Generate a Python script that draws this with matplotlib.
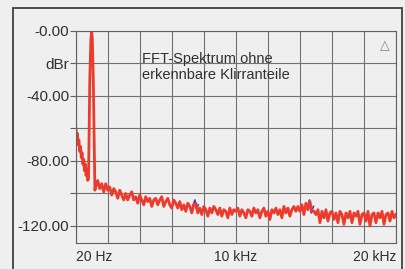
import matplotlib.pyplot as plt
import matplotlib.patches as patches
import numpy as np

plt.rcParams['font.family'] = ['Liberation Sans', 'DejaVu Sans']

# low-frequency part including the 1 kHz test tone
low_freq = [20, 60, 100, 150, 200, 250, 300, 350, 400, 450, 500, 550, 600, 650,
            700, 750, 800, 830, 880, 950, 1000, 1040, 1100, 1160, 1200]
low_db = [-60, -66, -63, -70, -67, -74, -71, -78, -75, -82, -79, -86, -82, -89,
          -85, -92, -91, -70, -30, -5, -0.5, -5, -30, -70, -98]

# noise floor, one value every 125 Hz from 1250 Hz to 20 kHz
noise_freq = np.arange(1250, 20001, 125)
noise_db = [
    -96, -92, -97, -94, -99, -94, -98, -96, -101, -97,
    -99, -103, -98, -101, -104, -100, -104, -101, -99, -104,
    -102, -106, -101, -104, -107, -102, -105, -103, -108, -104,
    -103, -107, -104, -102, -108, -105, -103, -107, -109, -104,
    -106, -109, -105, -110, -107, -111, -106, -108, -112, -107,
    -106, -112, -109, -113, -108, -110, -114, -109, -112, -108,
    -110, -113, -109, -114, -110, -111, -115, -109, -113, -110,
    -111, -109, -114, -110, -112, -115, -110, -111, -114, -109,
    -112, -110, -115, -111, -109, -114, -111, -116, -110, -112,
    -109, -113, -110, -115, -108, -112, -109, -114, -110, -108,
    -111, -108, -111, -107, -113, -106, -110, -105, -111, -111,
    -113, -110, -118, -111, -115, -110, -117, -112, -111, -116,
    -112, -118, -111, -113, -119, -112, -115, -111, -118, -112,
    -114, -111, -119, -113, -112, -117, -111, -120, -113, -112,
    -118, -112, -115, -111, -119, -113, -112, -117, -111, -115,
    -113,
]

# second channel, visible only where it pokes out of the red trace
blue1_freq = [7300, 7450, 7550, 7650]
blue1_db = [-108, -104, -110, -107]
blue2_freq = [14450, 14600, 14700, 14850]
blue2_db = [-109, -104, -112, -108]

freq = np.concatenate([low_freq, noise_freq])
db = np.concatenate([low_db, noise_db])

y_ticks = [0, -20, -40, -60, -80, -100, -120]
y_labels = ['-0.00', 'dBr', '-40.00', '', '-80.00', '', '-120.00']
x_ticks = np.linspace(20, 20000, 11)
x_labels = ['20 Hz', '', '', '', '', '10 kHz', '', '', '', '', '20 kHz']

bg = '#efefef'
fig = plt.figure(figsize=(4.06, 2.69), dpi=100, facecolor=bg)
ax = fig.add_axes([76/406, 1 - 243/269, 320/406, 212/269], facecolor=bg)

# outer frame
fig.patches.append(patches.Rectangle((13/406, -0.05), 389/406, 1.05 - 8/269,
                                     transform=fig.transFigure, fill=False,
                                     edgecolor='#404040', linewidth=1.3))

ax.plot(blue1_freq, blue1_db, color='#3a3ad0', linewidth=1.2)
ax.plot(blue2_freq, blue2_db, color='#3a3ad0', linewidth=1.2)
ax.plot(freq, db, color='#ec3b2c', linewidth=2.0)

ax.set_xlim(20, 20000)
ax.set_ylim(-130.5, 0)
ax.set_yticks(y_ticks)
ax.set_yticklabels(y_labels, fontsize=11, color='#303030')
ax.set_xticks(x_ticks)
ax.set_xticklabels(x_labels, fontsize=10, color='#303030')
xl = ax.get_xticklabels()
xl[0].set_ha('left')
xl[-1].set_ha('right')
ax.tick_params(axis='y', length=4, width=0.8, color='#606060', pad=1)
ax.tick_params(axis='x', length=0, pad=5)
ax.grid(True, color='#707070', linewidth=0.8)
for s in ax.spines.values():
    s.set_color('#606060')
    s.set_linewidth(0.8)

ax.text(0.205, 0.9, 'FFT-Spektrum ohne\nerkennbare Klirranteile',
        transform=ax.transAxes, fontsize=10.5, color='#303030',
        va='top', ha='left', linespacing=1.15)
ax.text(0.965, 0.96, '\u25b3', transform=ax.transAxes, fontsize=9,
        color='#808080', ha='center', va='top', family='DejaVu Sans')

plt.savefig('out.png', dpi=100, facecolor=bg)
